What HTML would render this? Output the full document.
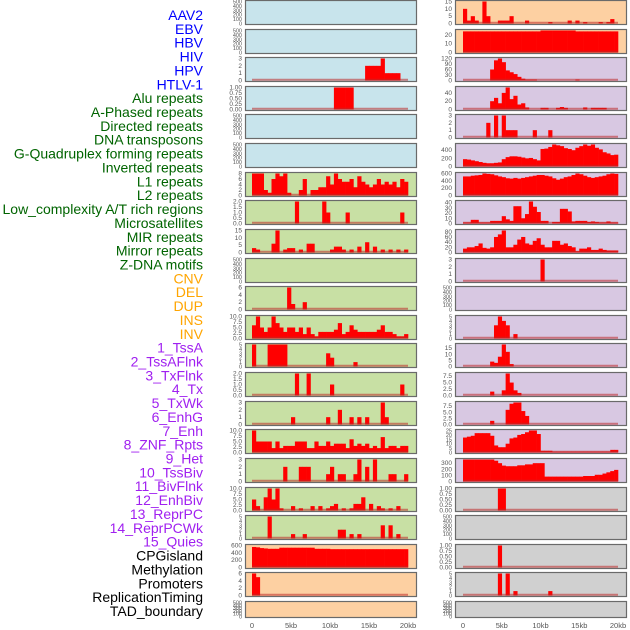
<!DOCTYPE html>
<html><head><meta charset="utf-8"><style>
html,body{margin:0;padding:0;background:#fff;}
svg{display:block;font-family:"Liberation Sans",sans-serif;}
</style></head><body>
<svg id="chart" width="630" height="630" viewBox="0 0 630 630"></svg>
<script>
// ---------- data ----------
const trackLabels = ["AAV2","EBV","HBV","HIV","HPV","HTLV-1","Alu repeats","A-Phased repeats","Directed repeats","DNA transposons","G-Quadruplex forming repeats","Inverted repeats","L1 repeats","L2 repeats","Low_complexity A/T rich regions","Microsatellites","MIR repeats","Mirror repeats","Z-DNA motifs","CNV","DEL","DUP","INS","INV","1_TssA","2_TssAFlnk","3_TxFlnk","4_Tx","5_TxWk","6_EnhG","7_Enh","8_ZNF_Rpts","9_Het","10_TssBiv","11_BivFlnk","12_EnhBiv","13_ReprPC","14_ReprPCWk","15_Quies","CPGisland","Methylation","Promoters","ReplicationTiming","TAD_boundary"];
const labelColors = ["#0000ff","#0000ff","#0000ff","#0000ff","#0000ff","#0000ff","#006400","#006400","#006400","#006400","#006400","#006400","#006400","#006400","#006400","#006400","#006400","#006400","#006400","#ffa500","#ffa500","#ffa500","#ffa500","#ffa500","#a020f0","#a020f0","#a020f0","#a020f0","#a020f0","#a020f0","#a020f0","#a020f0","#a020f0","#a020f0","#a020f0","#a020f0","#a020f0","#a020f0","#a020f0","#000","#000","#000","#000","#000"];
const xTickLabels = ["0","5kb","10kb","15kb","20kb"];
const xTickValues = [0,5,10,15,20];
const emptyTicks = [0,100,200,300,400,500];

// left column (40 bins of 0.5kb)
const L0 = null, L1 = null, L4 = null, L5 = null, L9 = null, L21 = null;
const L2 = [0,0,0,0,0,0,0,0,0,0,0,0,0,0,0,0,0,0,0,0,0,0,0,0,0,0,0,0,0,2,2,2,2,3,1,1,1,1,0,0];
const L3 = [0,0,0,0,0,0,0,0,0,0,0,0,0,0,0,0,0,0,0,0,0,1,1,1,1,1,0,0,0,0,0,0,0,0,0,0,0,0,0,0];
const L6 = [8,8,8,2,1,6,8,7,8,1,0,0,2,6,0,2,2,3,3,7,4,8,6,5,5,6,3,7,5,4,3,4,6,4,5,4,5,3,6,5];
const L7 = [0,0,0,0,0,0,0,0,0,0,0,2,0,0,0,0,0,0,2,1,0,0,0,0,1,0,0,0,0,0,0,0,0,0,0,0,0,0,1,0];
const L8 = [3,2,0,0,0,6,15,0,2,3,3,0,2,0,6,6,0,0,0,0,2,4,4,2,0,2,0,4,0,7,0,4,0,2,0,2,0,2,0,2];
const L10 = [0,0,0,0,0,0,0,0,0,6,1.5,0,0,2,0,0,0,0,0,0,0,0,0,0,0,0,0,0,0,0,0,0,0,0,0,0,0,0,0,0];
const L11 = [6,10,5,3,5,10,7,5,3,5,5,3,5,2,5,2,1,3,3,3,3,4,7,2,3,6,4,3,3,3,3,3,4,6,3,3,2,1,1,2];
const L12 = [5,0,0,0,5,5,5,5,5,0,0,0,0,0,0,0,0,0,0,3,2,0,0,0,0,0,1,0,0,0,0,0,0,0,0,0,0,0,0,0];
const L13 = [0,0,0,0,0,0,0,0,0,0,0,2,0,0,2,0,0,0,0,0,1,0,0,0,0,0,0,0,0,0,0,0,0,0,0,0,0,0,1,0];
const L14 = [0,0,0,0,0,0,0,0,0,0,1,0,0,0,0,0,0,0,0,1,0,0,2,0,0,1,0,1,0,1,0,0,0,3,1,0,0,0,0,0];
const L15 = [10,5,5,5,5,2,5,2,3,3,3,5,5,5,2,2,5,3,3,5,3,4,4,4,2,6,3,4,3,4,2,3,2,7,2,3,3,2,3,3];
const L16 = [0,0,0,0,0,0,0,0,2,0,0,0,2,2,2,0,0,0,0,1,2,0,1,1,0,0,1,3,0,2,0,3,0,0,0,1,1,0,0,1];
const L17 = [5,2,0,6,10,5,10,1,0,0,2,0,1,0,0,2,0,2,0,1,2,3,0,1,0,1,3,3,6,0,3,0,2,1,0,1,0,2,0,0];
const L18 = [0,0,0,0,5,0,0,0,0,0,1,0,0,1,0,0,0,0,0,0,0,0,2,2,0,1,0,1,0,0,0,0,0,3,0,3,0,1,0,0];
const L19 = [560,550,530,520,510,510,510,540,540,540,540,540,540,540,540,540,510,510,510,510,500,500,500,500,500,500,500,500,500,500,500,500,500,500,500,500,500,500,500,500];
const L20 = [6,5,0,0,0,0,0,0,0,0,0,0,0,0,0,0,0,0,0,0,0,0,0,0,0,0,0,0,0,0,0,0,0,0,0,0,0,0,0,0];

// right column
const R10 = null, R18 = null, R21 = null;
const R0 = [10,2,5,2,0,15,5,0,0,2,2,2,5,0,0,0,2,0,0,0,0,0,1,0,0,0,0,2,0,2,0,1,0,0,0,1,0,1,3,0];
const R1 = [24,24,24,24,24,24,24,24,24,24,24,24,24,24,24,24,24,24,24,24,25,25,25,25,25,25,25,25,25,24,24,24,24,24,24,24,24,24,24,24];
const R2 = [0,0,0,0,0,0,0,60,110,120,100,55,45,35,20,10,5,5,5,0,0,0,0,0,0,0,0,0,0,5,0,0,0,0,0,0,0,0,0,0];
const R3 = [0,0,0,0,0,0,0,20,28,15,40,53,25,33,12,15,5,0,0,0,4,4,0,0,4,6,4,0,0,0,0,5,0,4,4,4,4,0,0,0];
const R4 = [0,0,0,0,0,0,2,0,3,0,3,1,1,1,0,0,0,0,1,0,0,0,1,0,0,0,0,0,0,0,0,0,0,0,0,0,0,0,0,0];
const R5 = [180,170,150,130,110,90,80,80,90,100,180,230,250,250,240,220,200,210,180,150,430,440,480,540,520,500,450,430,400,460,500,540,510,540,460,420,350,320,280,290];
const R6 = [520,520,540,550,560,600,590,580,550,520,500,470,460,480,460,480,500,520,540,560,560,540,520,470,430,460,500,520,560,600,580,540,500,480,500,520,540,580,600,590];
const R7 = [2,2,7,7,2,2,2,5,5,5,14,8,5,33,33,10,18,42,32,22,5,5,0,3,3,28,28,23,4,5,5,5,3,4,3,2,2,4,2,2];
const R8 = [15,20,20,25,35,18,15,20,60,70,85,20,20,30,50,60,35,30,45,55,30,20,20,45,45,30,35,25,20,5,15,15,20,10,10,15,10,8,8,8];
const R9 = [0,0,0,0,0,0,0,0,0,0,0,0,0,0,0,0,0,0,0,0,3,0,0,0,0,0,0,0,0,0,0,0,0,0,0,0,0,0,0,0];
const R11 = [0,0,0,0,0,0,0,0,3,5,4,3,0,1,0,0,0,0,0,0,0,0,0,0,0,0,0,0,0,0,0,0,0,0,0,0,0,0,0,0];
const R12 = [0,0,0,0,0,0,0,4,3,8,18,12,2,0,0,0,0,0,0,0,0,0,0,0,0,0,0,0,0,0,0,0,0,0,0,0,0,0,0,0];
const R13 = [0,0,0,0,0,0,0,1.5,0,0,2,8.5,5,2,1,0,0,0,0,0,0,0,0,0,0,0,0,0,0,0,0,0,0,0,0,0,0,0,0,0];
const R14 = [0,0,0,0,0,0,0,1.5,0,0,0,6,8.5,9,9,5.5,3.5,0,0,0,0,0,0,0,0,0,0,0,0,0,0,0,0,0,0,0,0,0,0,0];
const R15 = [17,18,19,22,22,22,22,19,8,6,6,10,16,17,20,21,23,25,25,21,2,2,2,1,1,1,1,1,1,1,1,1,1,1,1,1,1,1,3,3];
const R16 = [360,360,360,360,360,360,360,360,340,300,260,250,250,250,265,265,280,280,300,300,300,80,80,80,80,80,80,80,80,80,80,90,90,90,110,110,130,150,170,190];
const R17 = [0,0,0,0,0,0,0,0,0,1,1,0,0,0,0,0,0,0,0,0,0,0,0,0,0,0,0,0,0,0,0,0,0,0,0,0,0,0,0,0];
const R19 = [0,0,0,0,0,0,0,0,0,1,0,0,0,0,0,0,0,0,0,0,0,0,0,0,0,0,0,0,0,0,0,0,0,0,0,0,0,0,0,0];
const R20 = [0,0,0,0,0,0,0,0,0,5,0,5,0,1,0,0,0,0,0,0,0,0,1,0,0,0,0,0,0,0,0,0,0,0,0,0,0,0,0,0];

const leftSeries = [L0,L1,L2,L3,L4,L5,L6,L7,L8,L9,L10,L11,L12,L13,L14,L15,L16,L17,L18,L19,L20,L21];
const rightSeries = [R0,R1,R2,R3,R4,R5,R6,R7,R8,R9,R10,R11,R12,R13,R14,R15,R16,R17,R18,R19,R20,R21];
const leftTicks = [null,null,["0","1","2","3"],["0.00","0.25","0.50","0.75","1.00"],null,null,["0","2","4","6","8"],["0.0","0.5","1.0","1.5","2.0"],["0","5","10","15"],null,["0","2","4","6"],["0.0","2.5","5.0","7.5","10.0"],["0","1","2","3","4","5"],["0.0","0.5","1.0","1.5","2.0"],["0","1","2","3"],["0.0","2.5","5.0","7.5","10.0"],["0","1","2","3"],["0.0","2.5","5.0","7.5","10.0"],["0","1","2","3","4","5"],["0","200","400","600"],["0","2","4","6"],null];
const rightTicks = [["0","5","10","15"],["0","10","20"],["0","30","60","90","120"],["0","20","40"],["0","1","2","3"],["0","200","400"],["0","200","400","600"],["0","10","20","30","40"],["0","20","40","60","80"],["0","1","2","3"],null,["0","1","2","3","4","5"],["0","5","10","15"],["0.0","2.5","5.0","7.5"],["0.0","2.5","5.0","7.5"],["0","5","10","15","20","25"],["0","100","200","300"],["0.00","0.25","0.50","0.75","1.00"],null,["0.00","0.25","0.50","0.75","1.00"],["0","1","2","3","4","5"],null];
const leftColors = ["#c8e4ec","#c8e4ec","#c8e4ec","#c8e4ec","#c8e4ec","#c8e4ec","#c8e0a4","#c8e0a4","#c8e0a4","#c8e0a4","#c8e0a4","#c8e0a4","#c8e0a4","#c8e0a4","#c8e0a4","#c8e0a4","#c8e0a4","#c8e0a4","#c8e0a4","#fdd0a2","#fdd0a2","#fdd0a2"];
const rightColors = ["#fdd0a2","#fdd0a2","#d8c8e2","#d8c8e2","#d8c8e2","#d8c8e2","#d8c8e2","#d8c8e2","#d8c8e2","#d8c8e2","#d8c8e2","#d8c8e2","#d8c8e2","#d8c8e2","#d8c8e2","#d8c8e2","#d8c8e2","#d0d0d0","#d0d0d0","#d0d0d0","#d0d0d0","#d0d0d0"];

// ---------- drawing ----------
const NS = "http://www.w3.org/2000/svg";
const svg = document.getElementById("chart");
function mk(tag, attrs, parent){
  const e = document.createElementNS(NS, tag);
  for (const k in attrs) e.setAttribute(k, attrs[k]);
  (parent||svg).appendChild(e);
  return e;
}
const rowTop = i => Math.round(i*28.62);
const rowH = i => (i===21 ? 16 : 24);
const cols = [{x:245, w:171, x0:252, x1:408, tx:242, series:leftSeries, ticks:leftTicks, colors:leftColors, side:"left"},
              {x:455, w:171, x0:463, x1:618, tx:452, series:rightSeries, ticks:rightTicks, colors:rightColors, side:"right"}];

// labels
trackLabels.forEach((t,i)=>{
  const el = mk("text",{x:203,y:20+i*13.86,"text-anchor":"end","font-size":"14",fill:labelColors[i]});
  
  
  el.textContent = t;
});

cols.forEach(c=>{
  const xScale = kb => c.x0 + kb*(c.x1-c.x0)/20;
  for (let r=0;r<22;r++){
    const T = rowTop(r), H = rowH(r);
    const g = mk("g",{});
    
    
    const bg = mk("rect",{x:c.x+0.5,y:T+0.5,width:c.w,height:H,fill:c.colors[r],stroke:"#6a6a6a","stroke-width":1.2},g);
    
    
    const vals = c.series[r];
    const ticks = c.ticks[r] || emptyTicks.map(String);
    const tickNums = ticks.map(Number);
    let ymax = Math.max(...tickNums);
    if (vals) ymax = Math.max(ymax, ...vals);
    const yb = T+H-0.5, yt = T+1.5;
    const yScale = v => yb - v/ymax*(yb-yt);
    // ticks
    ticks.forEach((lab,k)=>{
      const tt = mk("text",{x:c.tx,y:yScale(tickNums[k])+2,"text-anchor":"end","font-size":(ticks.length>5?"5.5":"6.5"),fill:"#555"},g);
      
      
      tt.textContent = lab;
    });
    if (vals){
      const bw = 0.5*(c.x1-c.x0)/20;
      vals.forEach((v,b)=>{
        if (v<=0) return;
        const x = xScale(b*0.5);
        const bar = mk("rect",{x:x,y:yScale(v),width:bw+0.3,height:yb-yScale(v),fill:"#ff0000"},g);
        
        
      });
      const base = mk("line",{x1:xScale(0),x2:xScale(20),y1:yb-0.8,y2:yb-0.8,stroke:"rgba(190,40,40,0.55)","stroke-width":2},g);
      
      
    }
  }
  xTickValues.forEach((v,k)=>{
    const t = mk("text",{x:xScale(v),y:628,"text-anchor":"middle","font-size":"7.5",fill:"#555"});
    
    
    t.textContent = xTickLabels[k];
  });
});
</script>
</body></html>
